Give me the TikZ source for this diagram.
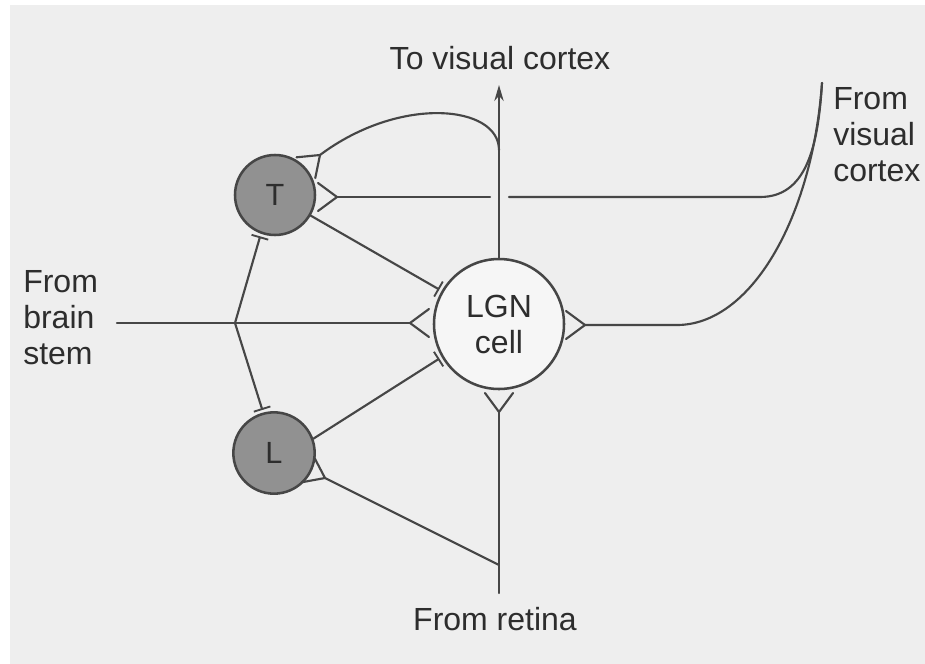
\documentclass[tikz,border=0pt]{standalone}
\usepackage{fontspec}
\setmainfont{Liberation Sans}
\usetikzlibrary{arrows.meta, calc}
\definecolor{pagegray}{RGB}{238,238,238}
\definecolor{nervegray}{RGB}{70,70,70}
\definecolor{cellgray}{RGB}{145,145,145}
\definecolor{inkgray}{RGB}{45,45,45}

\begin{document}
\begin{tikzpicture}[
    x=0.75pt, y=-0.75pt,
    every node/.style={font=\fontsize{24}{27}\selectfont, text=inkgray},
    cell/.style={circle, draw=nervegray, line width=1.9pt, inner sep=0pt, align=center},
    nerve/.style={draw=nervegray, line width=1.6pt, line cap=round},
    inhib/.style={-{Bar[width=13pt, line width=1.4pt]}, shorten >=2pt},
    lbl/.style={inner sep=0pt, align=left},
    synapse/.pic={\draw[nerve] (0,0) -- (19,-14) (0,0) -- (19,14);}
]
\useasboundingbox (0,0) rectangle (925,664);
\fill[white] (0,0) rectangle (925,664);
\fill[pagegray] (10,5) rectangle (925,664);

% cells
\node[cell, fill=pagegray!50!white, minimum size=97.5pt] (lgn) at (499,324) {LGN\\cell};
\node[cell, fill=cellgray, minimum size=60pt, font=\fontsize{23}{25}\selectfont] (T) at (275,195) {T};
\node[cell, fill=cellgray, minimum size=61pt, font=\fontsize{23}{25}\selectfont] (L) at (274,453) {L};

% labels
\node[lbl, anchor=base] (tovc) at (500,69) {To visual cortex};
\node[lbl, anchor=north west] (fromvc) at (833,87) {From\\visual\\cortex};
\node[lbl, anchor=north west] (frombs) at (23,270) {From\\brain\\stem};
\node[lbl, anchor=base] (fromret) at (495,630) {From retina};

% end points of the fibres
\coordinate (bsin) at (117,323);
\coordinate (bsfork) at (235,323);
\coordinate (lgnleft) at (410,323);
\coordinate (outtip) at (499,85);
\coordinate (tap) at (499,150);
\coordinate (Ttop) at (320,155);
\coordinate (vcin) at (822,83);
\coordinate (gapright) at (509,197);
\coordinate (gapleft) at (490,197);
\coordinate (Tright) at (337,197);
\coordinate (lgnright) at (585,325);
\coordinate (retin) at (499,593);
\coordinate (retfork) at (499,565);
\coordinate (lgnbot) at (499,412);
\coordinate (Lbot) at (325,478);

% brain stem -> LGN, branching to T and L
\draw[nerve] (bsin) -- (bsfork) -- (lgnleft);
\pic at (lgnleft) {synapse};
\draw[nerve, inhib] (bsfork) -- (T.-110);
\draw[nerve, inhib] (bsfork) -- (L.105);

% T and L -> LGN
\draw[nerve, inhib] (T.-30) -- (lgn.150);
\draw[nerve, inhib] (L.20) -- (lgn.210);

% LGN -> visual cortex, with collateral back onto T
\draw[nerve, -{Stealth[length=12pt, width=7pt]}] (lgn.north) -- (outtip);
\draw[nerve] (tap) .. controls (499,105) and (400,95) .. (Ttop);
\pic[rotate=-138] at (Ttop) {synapse};

% visual cortex feedback onto T and LGN
\draw[nerve] (vcin) .. controls (818,150) and (805,197) .. (760,197) -- (gapright);
\draw[nerve] (gapleft) -- (Tright);
\pic[rotate=180] at (Tright) {synapse};
\draw[nerve] (vcin) .. controls (812,220) and (750,325) .. (677,325) -- (lgnright);
\pic[rotate=180] at (lgnright) {synapse};

% retina -> LGN and L
\draw[nerve] (retin) -- (retfork) -- (lgnbot);
\pic[rotate=90] at (lgnbot) {synapse};
\draw[nerve] (retfork) -- (Lbot);
\pic[rotate=154] at (Lbot) {synapse};

\end{tikzpicture}
\end{document}
